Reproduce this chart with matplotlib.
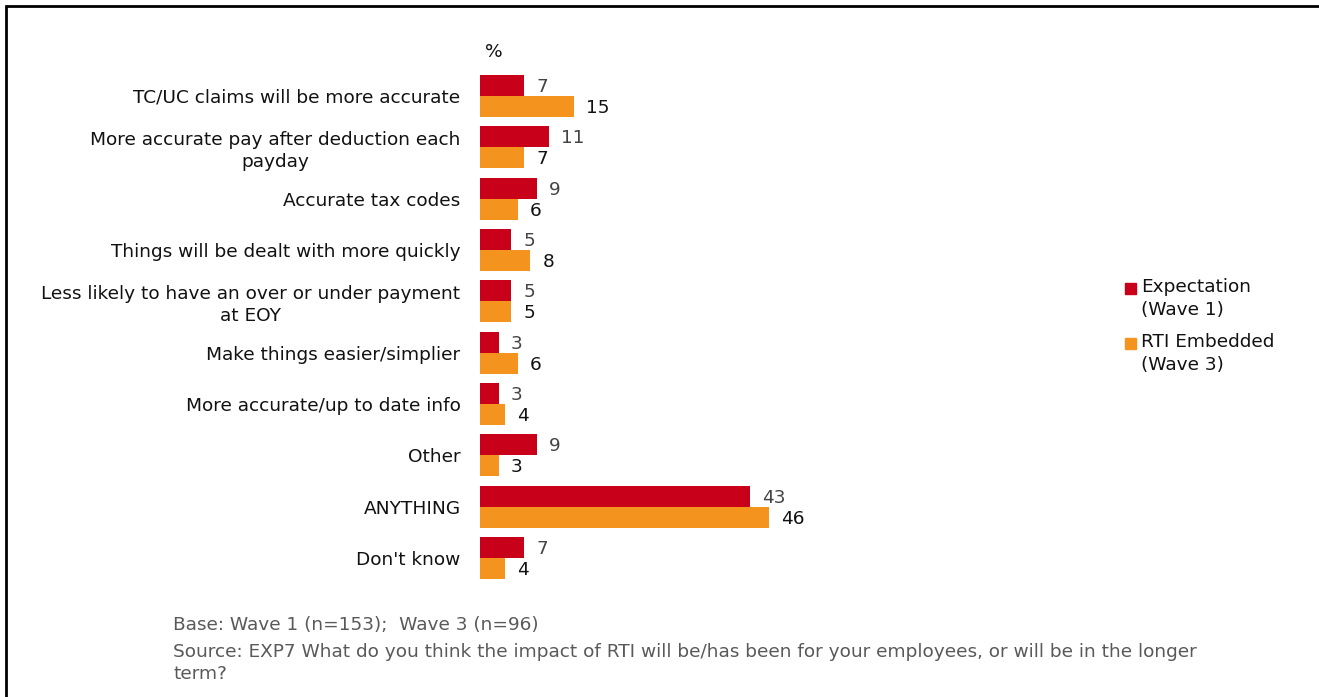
import matplotlib
matplotlib.use("Agg")
import matplotlib.pyplot as plt
from matplotlib.patches import Rectangle

categories = [
    "TC/UC claims will be more accurate",
    "More accurate pay after deduction each\npayday",
    "Accurate tax codes",
    "Things will be dealt with more quickly",
    "Less likely to have an over or under payment\nat EOY",
    "Make things easier/simplier",
    "More accurate/up to date info",
    "Other",
    "ANYTHING",
    "Don't know",
]
wave1 = [7, 11, 9, 5, 5, 3, 3, 9, 43, 7]
wave3 = [15, 7, 6, 8, 5, 6, 4, 3, 46, 4]
series_names = ["Expectation\n(Wave 1)", "RTI Embedded\n(Wave 3)"]
colors = ["#C8001A", "#F5931F"]
label_colors = ["#444444", "#111111"]

W, H = 1319, 697
fig = plt.figure(figsize=(W / 100, H / 100), dpi=100)
fig.patch.set_facecolor("white")

FONT = "DejaVu Sans"
FS = 13.3

# axes placed in pixel terms: zero line at x=480, 6.29 px per percentage point
ax_left, ax_top, ax_bottom = 480, 70.3, 583.7
xmax = 100
px_per_unit = 6.29
ax = fig.add_axes([ax_left / W, 1 - ax_bottom / H,
                   xmax * px_per_unit / W, (ax_bottom - ax_top) / H])
ax.set_xlim(0, xmax)
n = len(categories)
ax.set_ylim(n - 0.5, -0.5)

bh = 0.41
ys = list(range(n))
b1 = ax.barh([y - bh / 2 for y in ys], wave1, height=bh, color=colors[0])
b3 = ax.barh([y + bh / 2 for y in ys], wave3, height=bh, color=colors[1])
for bars, vals, col in [(b1, wave1, label_colors[0]), (b3, wave3, label_colors[1])]:
    for rect, v in zip(bars, vals):
        ax.annotate(f"{v}", (rect.get_width(), rect.get_y() + rect.get_height() / 2),
                    xytext=(12, -1.5), textcoords="offset pixels",
                    va="center", ha="left", fontsize=FS, color=col, family=FONT)

ax.set_yticks(ys)
ax.set_yticklabels(categories, fontsize=FS, family=FONT, color="#111111",
                   multialignment="center", linespacing=1.25)
ax.tick_params(axis="y", length=0, pad=14)
ax.set_xticks([])
for s in ax.spines.values():
    s.set_visible(False)

fig.text(485 / W, 1 - 52 / H, "%", fontsize=FS, family=FONT, color="#111111",
         va="center", ha="left")

# legend drawn as squares with two-line labels
leg_items = [(288, series_names[0], colors[0]), (343, series_names[1], colors[1])]
for ytop_line, text, col in leg_items:
    fig.add_artist(Rectangle((1125 / W, 1 - (ytop_line + 6) / H), 11 / W, 11 / H,
                             transform=fig.transFigure, color=col))
    fig.text(1141 / W, 1 - (ytop_line - 10) / H, text, fontsize=FS, family=FONT,
             color="#111111", va="top", ha="left", linespacing=1.35)

note_col = "#595959"
fig.text(173 / W, 1 - 625 / H, "Base: Wave 1 (n=153);  Wave 3 (n=96)", fontsize=FS,
         family=FONT, color=note_col, va="center", ha="left")
fig.text(173 / W, 1 - 663 / H,
         "Source: EXP7 What do you think the impact of RTI will be/has been for your employees, or will be in the longer\nterm?",
         fontsize=FS, family=FONT, color=note_col, va="center", ha="left", linespacing=1.3)

# outer frame
fig.add_artist(Rectangle((5.5 / W, -0.1), 1.2, 1 - 5.5 / H + 0.1,
                         transform=fig.transFigure, fill=False, edgecolor="black", lw=2))

fig.savefig("out.png", dpi=100)
